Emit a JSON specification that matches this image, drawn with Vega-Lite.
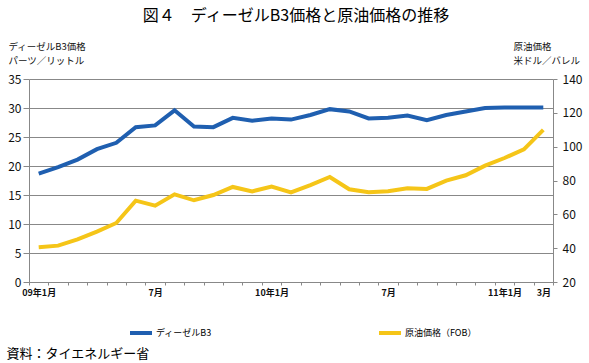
{
  "$schema": "https://vega.github.io/schema/vega-lite/v6.json",
  "autosize": {"type": "none"},
  "width": 524,
  "height": 203,
  "padding": {"left": 29, "top": 79, "right": 36, "bottom": 81},
  "background": "white",
  "config": {
    "font": "Noto Sans CJK JP",
    "view": {"stroke": null},
    "axis": {"labelFont": "Noto Sans CJK JP", "titleFont": "Noto Sans CJK JP", "labelColor": "#111", "titleColor": "#111", "domainColor": "#888", "tickColor": "#888", "gridColor": "#888"}
  },
  "title": {
    "text": "図４　ディーゼルB3価格と原油価格の推移",
    "fontSize": 16,
    "fontWeight": "normal",
    "font": "Noto Sans CJK JP",
    "color": "#000",
    "frame": "group",
    "anchor": "middle",
    "baseline": "alphabetic",
    "offset": 4,
    "dx": 5
  },
  "data": {
    "values": [
      {"month": "2009-01", "series": "ディーゼルB3", "value": 18.7},
      {"month": "2009-02", "series": "ディーゼルB3", "value": 19.8},
      {"month": "2009-03", "series": "ディーゼルB3", "value": 21.1},
      {"month": "2009-04", "series": "ディーゼルB3", "value": 22.9},
      {"month": "2009-05", "series": "ディーゼルB3", "value": 24.0},
      {"month": "2009-06", "series": "ディーゼルB3", "value": 26.7},
      {"month": "2009-07", "series": "ディーゼルB3", "value": 27.0},
      {"month": "2009-08", "series": "ディーゼルB3", "value": 29.6},
      {"month": "2009-09", "series": "ディーゼルB3", "value": 26.8},
      {"month": "2009-10", "series": "ディーゼルB3", "value": 26.7},
      {"month": "2009-11", "series": "ディーゼルB3", "value": 28.3},
      {"month": "2009-12", "series": "ディーゼルB3", "value": 27.8},
      {"month": "2010-01", "series": "ディーゼルB3", "value": 28.2},
      {"month": "2010-02", "series": "ディーゼルB3", "value": 28.0},
      {"month": "2010-03", "series": "ディーゼルB3", "value": 28.8},
      {"month": "2010-04", "series": "ディーゼルB3", "value": 29.8},
      {"month": "2010-05", "series": "ディーゼルB3", "value": 29.4},
      {"month": "2010-06", "series": "ディーゼルB3", "value": 28.2},
      {"month": "2010-07", "series": "ディーゼルB3", "value": 28.3},
      {"month": "2010-08", "series": "ディーゼルB3", "value": 28.7},
      {"month": "2010-09", "series": "ディーゼルB3", "value": 27.9},
      {"month": "2010-10", "series": "ディーゼルB3", "value": 28.8},
      {"month": "2010-11", "series": "ディーゼルB3", "value": 29.4},
      {"month": "2010-12", "series": "ディーゼルB3", "value": 30.0},
      {"month": "2011-01", "series": "ディーゼルB3", "value": 30.1},
      {"month": "2011-02", "series": "ディーゼルB3", "value": 30.1},
      {"month": "2011-03", "series": "ディーゼルB3", "value": 30.1},
      {"month": "2009-01", "series": "原油価格（FOB）", "value": 40.5},
      {"month": "2009-02", "series": "原油価格（FOB）", "value": 41.5},
      {"month": "2009-03", "series": "原油価格（FOB）", "value": 45.2},
      {"month": "2009-04", "series": "原油価格（FOB）", "value": 49.8},
      {"month": "2009-05", "series": "原油価格（FOB）", "value": 54.9},
      {"month": "2009-06", "series": "原油価格（FOB）", "value": 68.1},
      {"month": "2009-07", "series": "原油価格（FOB）", "value": 65.1},
      {"month": "2009-08", "series": "原油価格（FOB）", "value": 71.8},
      {"month": "2009-09", "series": "原油価格（FOB）", "value": 68.3},
      {"month": "2009-10", "series": "原油価格（FOB）", "value": 71.4},
      {"month": "2009-11", "series": "原油価格（FOB）", "value": 76.2},
      {"month": "2009-12", "series": "原油価格（FOB）", "value": 73.6},
      {"month": "2010-01", "series": "原油価格（FOB）", "value": 76.4},
      {"month": "2010-02", "series": "原油価格（FOB）", "value": 73.0},
      {"month": "2010-03", "series": "原油価格（FOB）", "value": 77.3},
      {"month": "2010-04", "series": "原油価格（FOB）", "value": 82.1},
      {"month": "2010-05", "series": "原油価格（FOB）", "value": 74.8},
      {"month": "2010-06", "series": "原油価格（FOB）", "value": 73.0},
      {"month": "2010-07", "series": "原油価格（FOB）", "value": 73.6},
      {"month": "2010-08", "series": "原油価格（FOB）", "value": 75.4},
      {"month": "2010-09", "series": "原油価格（FOB）", "value": 75.0},
      {"month": "2010-10", "series": "原油価格（FOB）", "value": 79.9},
      {"month": "2010-11", "series": "原油価格（FOB）", "value": 83.1},
      {"month": "2010-12", "series": "原油価格（FOB）", "value": 88.8},
      {"month": "2011-01", "series": "原油価格（FOB）", "value": 93.3},
      {"month": "2011-02", "series": "原油価格（FOB）", "value": 98.4},
      {"month": "2011-03", "series": "原油価格（FOB）", "value": 109.9}
    ]
  },
  "encoding": {
    "x": {
      "field": "month",
      "type": "ordinal",
      "scale": {"type": "band", "paddingInner": 0, "paddingOuter": 0},
      "axis": {
        "title": "資料：タイエネルギー省",
        "titleX": -23,
        "titleY": 75,
        "titleAlign": "left",
        "titleBaseline": "alphabetic",
        "titleFontSize": 13,
        "titleFontWeight": "normal",
        "titleColor": "#000",
        "labelAngle": 0,
        "labelFontSize": 9,
        "labelFontWeight": "bold",
        "labelPadding": 3,
        "labelOverlap": false,
        "tickBand": "extent",
        "tickSize": 3,
        "grid": false,
        "labelExpr": "datum.value == '2009-01' ? '09年1月' : datum.value == '2009-07' ? '7月' : datum.value == '2010-01' ? '10年1月' : datum.value == '2010-07' ? '7月' : datum.value == '2011-01' ? '11年1月' : datum.value == '2011-03' ? '3月' : ''"
      }
    },
    "color": {
      "field": "series",
      "type": "nominal",
      "scale": {"domain": ["ディーゼルB3", "原油価格（FOB）"], "range": ["#1F5FB0", "#F5C518"]},
      "legend": {
        "title": null,
        "orient": "none",
        "legendX": 99,
        "legendY": 241,
        "direction": "horizontal",
        "columns": 2,
        "columnPadding": 159,
        "symbolType": "stroke",
        "symbolStrokeWidth": 4,
        "symbolSize": 484,
        "labelFontSize": 9,
        "labelFont": "Noto Sans CJK JP",
        "labelColor": "#000",
        "labelOffset": 2
      }
    }
  },
  "layer": [
    {
      "transform": [{"filter": "datum.series == 'ディーゼルB3'"}],
      "mark": {"type": "line", "strokeWidth": 4},
      "encoding": {
        "y": {
          "field": "value",
          "type": "quantitative",
          "scale": {"domain": [0, 35], "nice": false},
          "axis": {
            "orient": "left",
            "values": [0, 5, 10, 15, 20, 25, 30, 35],
            "grid": true,
            "gridWidth": 1,
            "tickSize": 6,
            "labelPadding": 2,
            "labelFontSize": 12,
            "title": ["ディーゼルB3価格", "パーツ／リットル"],
            "titleAngle": 0,
            "titleAlign": "left",
            "titleBaseline": "top",
            "titleX": -21,
            "titleY": -38,
            "titleFontSize": 9.5,
            "titleLineHeight": 14,
            "titleFontWeight": "normal"
          }
        }
      }
    },
    {
      "transform": [{"filter": "datum.series == '原油価格（FOB）'"}],
      "mark": {"type": "line", "strokeWidth": 4},
      "encoding": {
        "y": {
          "field": "value",
          "type": "quantitative",
          "scale": {"domain": [20, 140], "nice": false},
          "axis": {
            "orient": "right",
            "values": [20, 40, 60, 80, 100, 120, 140],
            "grid": false,
            "tickSize": 4,
            "labelPadding": 5,
            "labelFontSize": 12,
            "title": ["原油価格", "米ドル／バレル"],
            "titleAngle": 0,
            "titleAlign": "left",
            "titleBaseline": "top",
            "titleX": -40,
            "titleY": -38,
            "titleFontSize": 9.5,
            "titleLineHeight": 14,
            "titleFontWeight": "normal"
          }
        }
      }
    }
  ],
  "resolve": {"scale": {"y": "independent"}}
}
